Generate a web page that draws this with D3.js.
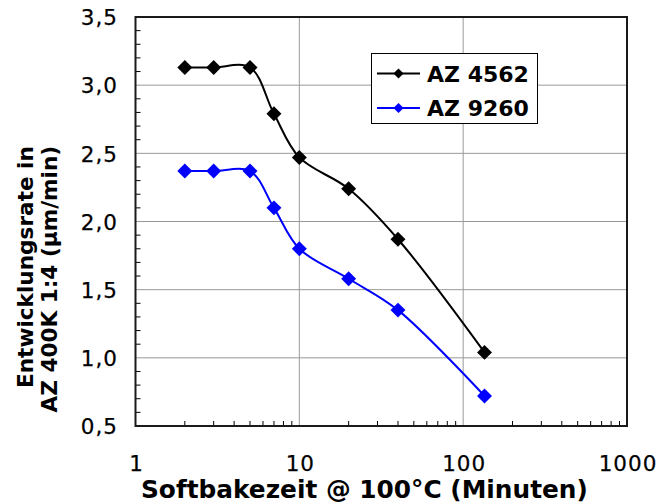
<!DOCTYPE html>
<html>
<head>
<meta charset="utf-8">
<script src="https://cdn.jsdelivr.net/npm/d3@7"></script>
<style>
  html, body { margin: 0; padding: 0; background: #fff; }
  svg { display: block; font-family: "DejaVu Sans", Verdana, sans-serif; }
  .tick text { font-size: 21.5px; letter-spacing: 1px; font-family: "DejaVu Sans", Verdana, sans-serif; fill: #000; stroke: #000; stroke-width: 0.25px; }
</style>
</head>
<body>
<svg id="chart" width="668" height="503"></svg>
<script>
const xValues = [2, 3, 5, 7, 10, 20, 40, 135];
const seriesNames = ["AZ 4562", "AZ 9260"];
const seriesColors = ["#000000", "#0000ff"];
const az4562 = [3.13, 3.13, 3.13, 2.79, 2.47, 2.24, 1.87, 1.04];
const az9260 = [2.37, 2.37, 2.37, 2.10, 1.80, 1.58, 1.35, 0.72];
const xTickValues = [1, 10, 100, 1000];
const yTickValues = [0.5, 1.0, 1.5, 2.0, 2.5, 3.0, 3.5];
const xTitle = "Softbakezeit @ 100°C (Minuten)";
const yTitle1 = "Entwicklungsrate in";
const yTitle2 = "AZ 400K 1:4 (µm/min)";

const svg = d3.select("#chart");
const L = 135.5, R = 627, T = 17, B = 426;

const x = d3.scaleLog().domain([1, 1000]).range([L, R]);
const y = d3.scaleLinear().domain([0.5, 3.5]).range([B, T]);
const fmt = d => d.toFixed(1).replace(".", ",");

// gridlines
const grid = svg.append("g").attr("stroke", "#999").attr("stroke-width", 1);
xTickValues.slice(1, -1).forEach(v => {
  grid.append("line").attr("x1", x(v)).attr("x2", x(v)).attr("y1", T).attr("y2", B);
});
yTickValues.slice(1, -1).forEach(v => {
  grid.append("line").attr("x1", L).attr("x2", R).attr("y1", y(v)).attr("y2", y(v));
});

// minor ticks
const minor = svg.append("g").attr("stroke", "#000").attr("stroke-width", 1);
x.ticks().filter(v => Math.abs(Math.log10(v) - Math.round(Math.log10(v))) > 1e-6).forEach(v => {
  minor.append("line").attr("x1", x(v)).attr("x2", x(v)).attr("y1", B).attr("y2", B - 5);
});
d3.range(5, 36).map(i => i / 10).filter(v => Math.abs(v * 2 - Math.round(v * 2)) > 1e-6).forEach(v => {
  minor.append("line").attr("x1", L).attr("x2", L + 5).attr("y1", y(v)).attr("y2", y(v));
});

// frame
svg.append("rect").attr("x", L).attr("y", T).attr("width", R - L).attr("height", B - T)
  .attr("fill", "none").attr("stroke", "#1a1a1a").attr("stroke-width", 2);

// axes (labels only)
const xAxis = svg.append("g").attr("transform", `translate(0,${B})`)
  .call(d3.axisBottom(x).tickValues(xTickValues).tickSize(0).tickFormat(d3.format("d")));
xAxis.attr("font-size", null).attr("font-family", null);
xAxis.select(".domain").remove();
xAxis.selectAll("text").attr("y", 45).attr("dy", null).attr("dx", "0.5px");

const yAxis = svg.append("g").attr("transform", `translate(${L},0)`)
  .call(d3.axisLeft(y).tickValues(yTickValues).tickSize(0).tickFormat(fmt));
yAxis.attr("font-size", null).attr("font-family", null);
yAxis.select(".domain").remove();
yAxis.selectAll("text").attr("x", -17.5).attr("dy", "0.36em");

// titles
svg.append("text").attr("x", 141).attr("y", 498).attr("font-size", 24.8).attr("font-weight", "bold")
  .text(xTitle);
svg.append("text").attr("transform", "translate(33,388) rotate(-90)").attr("font-size", 21.6)
  .attr("font-weight", "bold").text(yTitle1);
svg.append("text").attr("transform", "translate(56.5,412.5) rotate(-90)").attr("font-size", 21.6)
  .attr("font-weight", "bold").text(yTitle2);

// series
const series = [az4562, az9260];
const line = d3.line().x(d => x(d[0])).y(d => y(d[1])).curve(d3.curveCatmullRom.alpha(0.5));
const diamond = d3.symbol().type(d3.symbolSquare).size(112);
series.forEach((vals, i) => {
  const pts = xValues.map((xv, j) => [xv, vals[j]]);
  svg.append("path").attr("d", line(pts)).attr("fill", "none")
    .attr("stroke", seriesColors[i]).attr("stroke-width", 2);
  svg.append("g").selectAll("path").data(pts).join("path")
    .attr("d", diamond)
    .attr("transform", d => `translate(${x(d[0])},${y(d[1])}) rotate(45)`)
    .attr("fill", seriesColors[i]);
});

// legend
const lg = svg.append("g");
lg.append("rect").attr("x", 371.5).attr("y", 53.5).attr("width", 166).attr("height", 70)
  .attr("fill", "#fff").attr("stroke", "#000").attr("stroke-width", 1);
const legendRowY = [73.5, 108];
const smallDiamond = d3.symbol().type(d3.symbolSquare).size(52);
seriesNames.forEach((name, i) => {
  const yy = legendRowY[i];
  lg.append("line").attr("x1", 377).attr("x2", 420).attr("y1", yy).attr("y2", yy)
    .attr("stroke", seriesColors[i]).attr("stroke-width", 2);
  lg.append("path").attr("d", smallDiamond)
    .attr("transform", `translate(398.5,${yy}) rotate(45)`).attr("fill", seriesColors[i]);
  lg.append("text").attr("x", 427).attr("y", yy + 8).attr("font-size", 22)
    .attr("font-weight", "bold").text(name);
});
</script>
</body>
</html>
